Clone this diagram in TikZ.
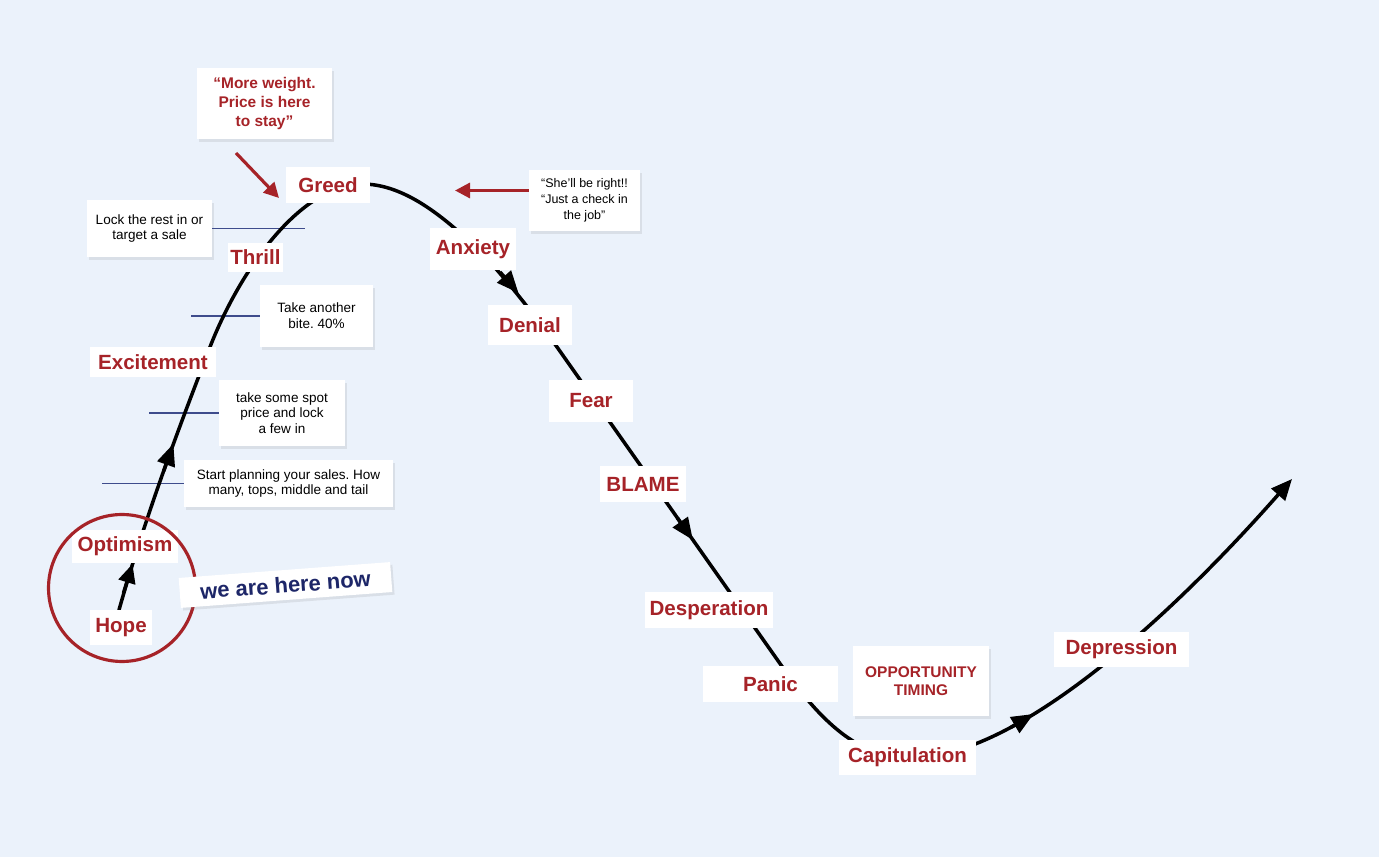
\documentclass[tikz,border=0pt]{standalone}
\usepackage{fontspec}
\setmainfont{Liberation Sans}
\usetikzlibrary{arrows.meta,shadows,calc}
\definecolor{bgblue}{HTML}{EBF2FB}
\definecolor{myred}{HTML}{A62328}
\definecolor{navytext}{HTML}{1D2668}
\definecolor{navyline}{HTML}{3E4C8C}
\tikzset{
  stage/.style={fill=white, text=myred, font=\fontsize{11.7}{14}\selectfont\bfseries, inner sep=0pt, align=center},
  shadowed/.style={drop shadow={shadow xshift=1.3pt, shadow yshift=-1.5pt, opacity=0.16}},
  note/.style={fill=white, font=\fontsize{7.7}{9}\selectfont, inner sep=0pt, align=center, shadowed},
  quote/.style={fill=white, text=myred, font=\fontsize{8.8}{10.8}\selectfont\bfseries, inner sep=0pt, align=center, shadowed},
  tickline/.style={draw=navyline, line width=1.1pt},
  curve/.style={draw=black, line width=2pt, line cap=round},
  curvearrow/.style={draw=black, line width=2pt, -{Triangle[length=0.44cm,width=0.36cm]}},
  smallarrow/.style={draw=black, line width=2pt, -{Triangle[length=0.38cm,width=0.34cm]}},
  redarrow/.style={draw=myred, line width=1.8pt, -{Triangle[length=0.3cm,width=0.3cm]}},
}
\frenchspacing
\begin{document}
\begin{tikzpicture}[x=0.02cm,y=-0.02cm]
\useasboundingbox (0,0) rectangle (1384,861);
\fill[white] (0,0) rectangle (1384,861);
\fill[bgblue] (0,0) rectangle (1379,857);

% note boxes and tick lines
\node[note, minimum width=2.5cm, minimum height=1.14cm] (lock) at (149.5,228.5) {Lock the rest in or\\target a sale};
\node[note, minimum width=2.26cm, minimum height=1.24cm] (bite) at (316.5,316) {Take another\\bite. 40\%};
\node[note, minimum width=2.52cm, minimum height=1.32cm] (spot) at (282,413) {take some spot\\price and lock\\a few in};
\node[note, minimum width=4.18cm, minimum height=0.94cm] (plan) at (288.5,483.5) {Start planning your sales. How\\many, tops, middle and tail};

\draw[tickline] (lock.east) -- ++(93,0);
\draw[tickline] (bite.west) -- ++(-69,0);
\draw[tickline] (spot.west) -- ++(-70,0);
\draw[tickline] (plan.west) -- ++(-82,0);

% main curve
\draw[curve, -{Triangle[length=0.42cm,width=0.36cm]}]
  (119,610) .. controls (150,500) and (190,400) .. (210,347)
  .. controls (240,270) and (300,185) .. (362,184)
  .. controls (400,184) and (440,210) .. (490,262)
  .. controls (513,288) and (533,313) .. (557,347)
  -- (781,665)
  .. controls (816,715) and (855,757) .. (905,757)
  .. controls (1000,765) and (1150,640) .. (1292,479);

% stage labels
\node[stage, minimum width=1.68cm, minimum height=0.72cm] (greed) at (328,185) {Greed};
\node[stage, minimum width=1.1cm, minimum height=0.58cm] (thrill) at (255.5,257.5) {Thrill};
\node[stage, minimum width=2.52cm, minimum height=0.6cm] (excite) at (153,362) {Excitement};
\node[stage, minimum width=2.12cm, minimum height=0.66cm] (optimism) at (125,546.5) {Optimism};
\node[stage, minimum width=1.24cm, minimum height=0.7cm] (hope) at (121,627.5) {Hope};
\node[stage, minimum width=1.72cm, minimum height=0.84cm] (anxiety) at (473,249) {Anxiety};
\node[stage, minimum width=1.68cm, minimum height=0.8cm] (denial) at (530,325) {Denial};
\node[stage, minimum width=1.68cm, minimum height=0.84cm] (fear) at (591,401) {Fear};
\node[stage, minimum width=1.72cm, minimum height=0.72cm] (blame) at (643,484) {BLAME};
\node[stage, minimum width=2.56cm, minimum height=0.72cm] (desp) at (709,610) {Desperation};
\node[stage, minimum width=2.7cm, minimum height=0.72cm] (panic) at (770.5,684) {Panic};
\node[stage, minimum width=2.74cm, minimum height=0.7cm] (capit) at (907.5,757.5) {Capitulation};
\node[stage, minimum width=2.7cm, minimum height=0.7cm] (depr) at (1121.5,649.5) {Depression};

% mid-curve arrowheads
\draw[smallarrow] (123.5,593) -- (132.5,564);
\draw[curvearrow] (163.7,471) -- (173.4,443.7);
\draw[curvearrow] (500,272) -- (518.5,293);
\draw[curvearrow] (677.4,518) -- (692.9,540);
\draw[curvearrow] (1011,727.3) -- (1033.6,714);

% quote boxes
\node[quote, minimum width=2.7cm, minimum height=1.42cm] (weight) at (264.5,103.5) {“More weight.\\Price is here\\to stay”};
\node[note, font=\fontsize{7.1}{9}\selectfont, minimum width=2.22cm, minimum height=1.22cm] (shell) at (584.5,200.5) {“She’ll be right!!\\“Just a check in\\the job”};
\node[quote, font=\fontsize{8.8}{10.2}\selectfont\bfseries, minimum width=2.72cm, minimum height=1.4cm] (opp) at (921,681) {OPPORTUNITY\\TIMING};

\coordinate (weighttail) at (236,153);
\coordinate (weighthead) at (279,198);
\draw[redarrow] (weighttail) -- (weighthead);
\coordinate (shellhead) at (455,190.5);
\draw[redarrow] ($(shell.west)+(0,-10)$) -- (shellhead);

% here marker
\draw[myred, line width=1.8pt] (122,588) circle[radius=1.47cm];
\node[fill=white, shadowed, rotate=4.3, text=navytext, font=\fontsize{12.5}{14}\selectfont\bfseries, inner sep=0pt, minimum width=4.24cm, minimum height=0.6cm] (here) at (285.5,585) {we are here now};
\end{tikzpicture}
\end{document}
